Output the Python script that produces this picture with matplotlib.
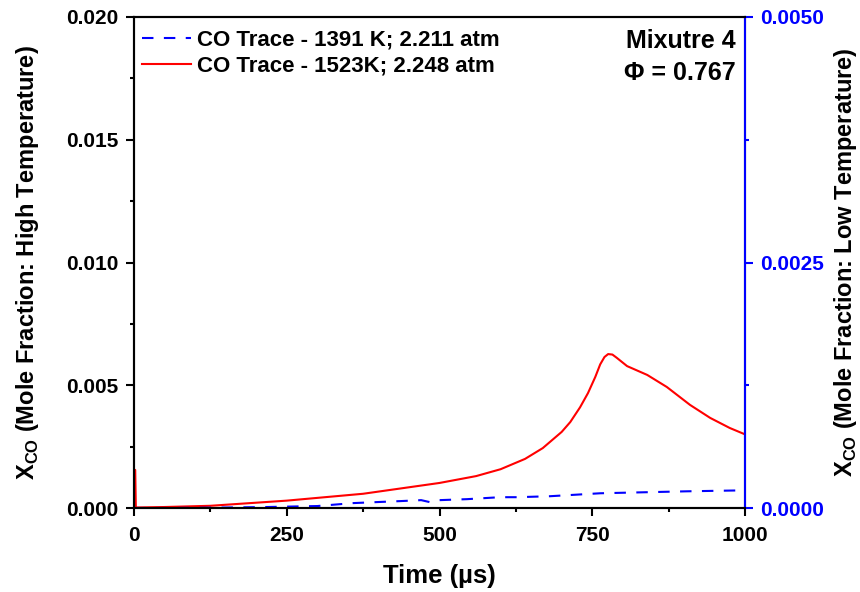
import matplotlib
matplotlib.use("Agg")
import matplotlib.pyplot as plt
from matplotlib.ticker import MultipleLocator, FormatStrFormatter

plt.rcParams['font.family'] = ['Liberation Sans', 'DejaVu Sans']
plt.rcParams['font.weight'] = 'bold'
plt.rcParams['mathtext.fontset'] = 'custom'
plt.rcParams['mathtext.rm'] = 'Liberation Sans'
plt.rcParams['mathtext.bf'] = 'Liberation Sans:bold'

# CO trace at 1523 K (high temperature, left axis)
high_t = [0, 1, 2, 3, 50, 125, 250, 375, 500, 560, 600, 640, 669, 700, 714,
          730, 743, 755, 763, 770, 776, 783, 790, 807, 840, 872, 910, 943,
          975, 1000]
high_x = [0, 0.00155, 0.00155, 0.00002, 0.00004, 0.00009, 0.0003, 0.00058,
          0.00102, 0.0013, 0.00158, 0.002, 0.00244, 0.0031, 0.0035, 0.0041,
          0.00468, 0.00534, 0.00585, 0.00615, 0.00627, 0.00625, 0.00612,
          0.00578, 0.00542, 0.00493, 0.0042, 0.00367, 0.00326, 0.0030]

# CO trace at 1391 K (low temperature, right axis)
low_t = [0, 60, 124, 218, 300, 359, 435, 470, 484, 500, 545, 599, 627, 681,
         763, 905, 1000]
low_x = [0, 0, 0.000003, 0.00001, 0.00002, 0.00005, 0.00007, 0.00008,
         0.00006, 0.00008, 0.00009, 0.00011, 0.00011, 0.00012, 0.00015,
         0.00017, 0.00018]

high_label = 'CO Trace - 1523K; 2.248 atm'
low_label = 'CO Trace - 1391 K; 2.211 atm'

fig = plt.figure(figsize=(8.6, 5.92), dpi=100)
ax = fig.add_axes([134 / 860, 84 / 592, 611 / 860, 491 / 592])
ax2 = ax.twinx()

l_low, = ax2.plot(low_t, low_x, color='#0000ff', lw=1.5, dashes=(5.5, 5))
l_high, = ax.plot(high_t, high_x, color='#ff0000', lw=1.5)

ax.set_xlim(0, 1000)
ax.set_ylim(0, 0.020)
ax2.set_ylim(0, 0.0050)

ax.xaxis.set_major_locator(MultipleLocator(250))
ax.xaxis.set_minor_locator(MultipleLocator(125))
ax.yaxis.set_major_locator(MultipleLocator(0.005))
ax.yaxis.set_minor_locator(MultipleLocator(0.0025))
ax.yaxis.set_major_formatter(FormatStrFormatter('%.3f'))
ax2.yaxis.set_major_locator(MultipleLocator(0.0025))
ax2.yaxis.set_minor_locator(MultipleLocator(0.00125))
ax2.yaxis.set_major_formatter(FormatStrFormatter('%.4f'))

for a in (ax, ax2):
    for s in a.spines.values():
        s.set_linewidth(1.5)
ax2.spines['right'].set_color('#0000ff')

ax.tick_params(axis='both', which='major', direction='out', length=6,
               width=1.5, labelsize=15, top=False, right=False)
ax.tick_params(axis='x', which='major', pad=7)
ax.tick_params(axis='y', which='major', pad=5)
ax.tick_params(axis='both', which='minor', direction='out', length=3,
               width=1.5, top=False, right=False)
ax2.tick_params(axis='y', which='major', direction='out', length=6,
                width=1.5, labelsize=15, colors='#0000ff', pad=5)
ax2.tick_params(axis='y', which='minor', direction='out', length=3,
                width=1.5, colors='#0000ff')
for lab in ax.get_xticklabels() + ax.get_yticklabels() + ax2.get_yticklabels():
    lab.set_fontweight('bold')

ax.set_xlabel('Time (µs)', fontsize=18.5, fontweight='bold', labelpad=14)
ax.set_ylabel(r'X$_{\mathrm{CO}}$ (Mole Fraction: High Temperature)',
              fontsize=17, fontweight='bold', labelpad=18)
ax2.set_ylabel(r'X$_{\mathrm{CO}}$ (Mole Fraction: Low Temperature)',
               fontsize=17, fontweight='bold', labelpad=6, color='black')

leg = ax.legend([l_low, l_high], [low_label, high_label], loc='upper left',
                bbox_to_anchor=(0.0, 0.99), frameon=False, handlelength=2.2,
                handletextpad=0.3, borderaxespad=0.1, borderpad=0.25,
                labelspacing=0.22, prop={'weight': 'bold', 'size': 16})

ax.text(0.985, 0.975, 'Mixutre 4\nΦ = 0.767', transform=ax.transAxes,
        ha='right', va='top', fontsize=18, fontweight='bold',
        linespacing=1.4)

fig.savefig('out.png', dpi=100)
